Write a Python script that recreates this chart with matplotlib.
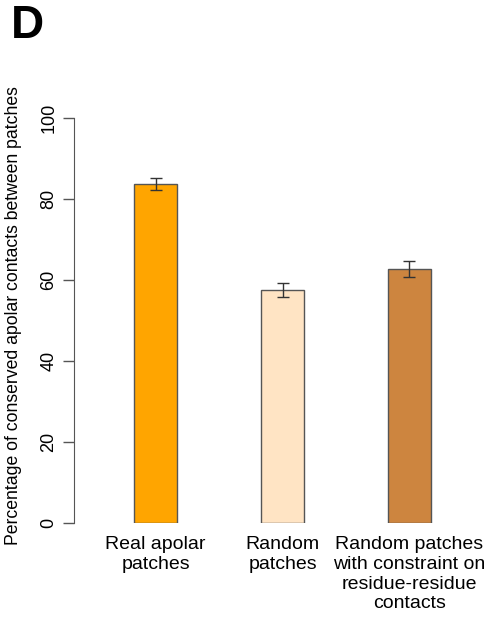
import matplotlib
matplotlib.use("Agg")
import matplotlib.pyplot as plt

plt.rcParams['font.family'] = ['Liberation Sans', 'DejaVu Sans']

categories = ["Real apolar\npatches", "Random\npatches",
              "Random patches\nwith constraint on\nresidue-residue\ncontacts"]
values = [83.7, 57.5, 62.8]
errors = [1.5, 1.8, 2.0]
colors = ["#FFA500", "#FFE4C4", "#CD853F"]
yticks = [0, 20, 40, 60, 80, 100]

W, H = 491, 623
fig = plt.figure(figsize=(W / 100, H / 100), dpi=100)
ax = fig.add_axes([74 / W, 100 / H, (W - 74) / W, 405 / H])

pos = list(range(len(values)))
ax.bar(pos, values, width=0.34, color=colors, edgecolor="#555555", linewidth=1.0, zorder=2)
ax.errorbar(pos, values, yerr=errors, fmt="none", ecolor="#333333",
            elinewidth=1.0, capsize=4, capthick=1.0, zorder=3)

ax.set_xlim(-0.642, 2.642)
ax.set_ylim(0, 100)
for s in ["top", "right", "bottom"]:
    ax.spines[s].set_visible(False)
ax.spines["left"].set_color("#555555")
ax.spines["left"].set_bounds(0, 100)
ax.set_yticks(yticks)
ax.set_yticklabels([str(t) for t in yticks], rotation=90, va="center", fontsize=13)
ax.tick_params(axis="y", length=8, width=1, color="#555555", pad=4)
ax.set_xticks([])
for p, c in zip(pos, categories):
    ax.text(p, -3.3, c, ha="center", va="top", fontsize=14, linespacing=1.2,
            transform=ax.transData, clip_on=False)

fig.text(14 / W, 1 - 316 / H, "Percentage of conserved apolar contacts between patches",
         rotation=90, ha="center", va="center", fontsize=12.7)
fig.text(11 / W, 1 - 26 / H, "D", fontsize=33, fontweight="bold", ha="left", va="center")

fig.savefig("out.png", dpi=100)
